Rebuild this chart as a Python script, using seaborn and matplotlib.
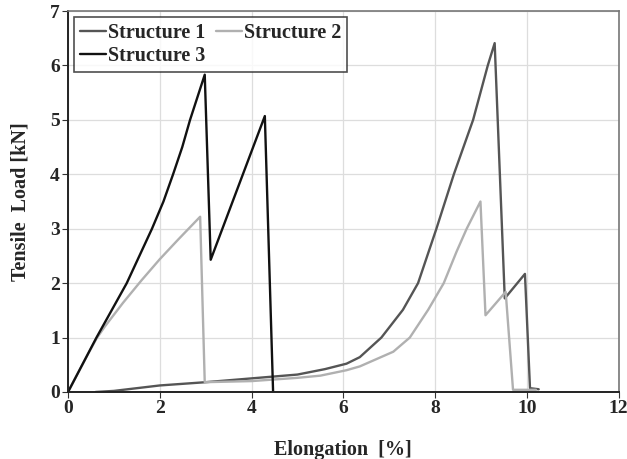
import pandas as pd
import seaborn as sns
import matplotlib
matplotlib.use("Agg")
import matplotlib.pyplot as plt

x1 = [0.6, 1.0, 2.0, 3.0, 4.0, 5.0, 5.6, 6.07, 6.36, 6.83, 7.30, 7.63, 8.03, 8.41, 8.83, 9.15, 9.30, 9.52, 9.96, 10.07, 10.26]
y1 = [0.0, 0.02, 0.12, 0.18, 0.25, 0.32, 0.42, 0.52, 0.64, 1.0, 1.51, 2.0, 3.0, 4.0, 5.0, 6.0, 6.41, 1.72, 2.17, 0.07, 0.05]

x2 = [0.0, 0.45, 0.62, 0.8, 1.2, 1.6, 2.0, 2.4, 2.88, 2.98, 4.0, 5.0, 5.5, 6.07, 6.36, 7.09, 7.45, 7.85, 8.19, 8.47, 8.69, 8.99, 9.10, 9.54, 9.70, 10.2]
y2 = [0.0, 0.72, 0.98, 1.2, 1.64, 2.05, 2.44, 2.8, 3.22, 0.18, 0.2, 0.26, 0.30, 0.40, 0.47, 0.74, 1.0, 1.51, 2.0, 2.58, 3.0, 3.5, 1.41, 1.84, 0.04, 0.04]

x3 = [0.0, 0.62, 1.28, 1.83, 2.08, 2.29, 2.49, 2.66, 2.98, 3.11, 4.29, 4.47]
y3 = [0.0, 1.0, 2.0, 3.0, 3.5, 4.0, 4.5, 5.0, 5.83, 2.43, 5.07, 0.0]

names = ["Structure 1", "Structure 2", "Structure 3"]
colors = ["#555555", "#b0b0b0", "#111111"]

frames = []
for name, xs, ys in zip(names, [x1, x2, x3], [y1, y2, y3]):
    frames.append(pd.DataFrame({"x": xs, "y": ys, "s": name}))
df = pd.concat(frames, ignore_index=True)

sns.set_style("whitegrid")
plt.rcParams['font.family'] = ['Liberation Serif', 'DejaVu Serif']
plt.rcParams['font.weight'] = 'bold'

fig = plt.figure(figsize=(6.27, 4.59), dpi=100)
ax = fig.add_axes([0.1085, 0.146, 0.878, 0.830])

sns.lineplot(data=df, x="x", y="y", hue="s", palette=dict(zip(names, colors)),
             sort=False, estimator=None, linewidth=1.7, ax=ax)

ax.set_xlim(0, 12)
ax.set_ylim(0, 7)
ax.set_xticks(range(0, 13, 2))
ax.set_yticks(range(0, 8))
ax.grid(True, color="#dddddd", linewidth=0.9)
for t in ax.get_xticklabels() + ax.get_yticklabels():
    t.set_fontweight("bold")
    t.set_fontsize(14)
ax.tick_params(axis="both", length=4, color="#333333", pad=2, direction="out")
ax.tick_params(bottom=True, left=True)

for side in ["left", "bottom"]:
    ax.spines[side].set_color("#222222")
    ax.spines[side].set_linewidth(1.4)
for side in ["top", "right"]:
    ax.spines[side].set_color("#777777")
    ax.spines[side].set_linewidth(1.2)

ax.set_xlabel("Elongation  [%]", fontsize=14.5, fontweight="bold", labelpad=16)
ax.set_ylabel("Tensile  Load [kN]", fontsize=14.5, fontweight="bold", labelpad=14)

# row order: S1 S2 / S3
h, l = ax.get_legend_handles_labels()
order = [0, 2, 1]
leg = ax.legend([h[i] for i in order], [l[i] for i in order],
                loc="upper left", ncol=2, frameon=True, fancybox=False,
                edgecolor="#222222", fontsize=14.5, handlelength=1.3,
                handletextpad=0.1, columnspacing=0.5, borderpad=0.3,
                labelspacing=0.15, borderaxespad=0.3)
leg.get_frame().set_linewidth(1.2)
for t in leg.get_texts():
    t.set_fontweight("bold")

fig.savefig("out.png", dpi=100)
